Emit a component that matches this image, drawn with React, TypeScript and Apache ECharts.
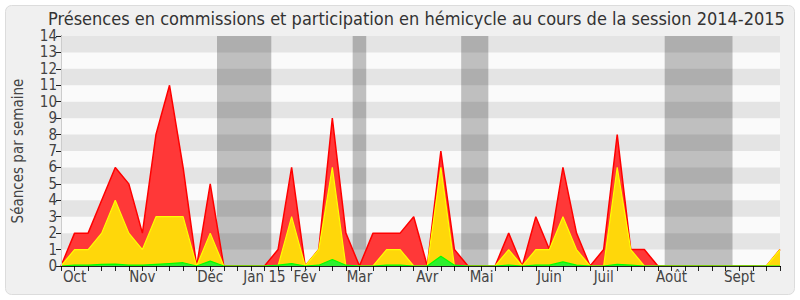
import React, { useEffect, useRef } from 'react';
import * as echarts from 'echarts';

const titleText = 'Présences en commissions et participation en hémicycle au cours de la session 2014-2015';
const yAxisName = 'Séances par semaine';

const weekCount = 54;
const monthLabels: [number, string][] = [
  [1, 'Oct'], [6, 'Nov'], [11, 'Déc'], [15, 'Jan 15'], [18, 'Fév'], [22, 'Mar'],
  [27, 'Avr'], [31, 'Mai'], [36, 'Juin'], [40, 'Juil'], [45, 'Août'], [50, 'Sept'],
];

const redValues = [0, 2, 2, 4, 6, 5, 2, 8, 11, 6, 0, 5, 0, 0, 0, 0, 1, 6, 0, 1, 9, 2, 0, 2, 2, 2, 3, 0, 7, 1, 0, 0, 0, 2, 0, 3, 1, 6, 2, 0, 1, 8, 1, 1, 0, 0, 0, 0, 0, 0, 0, 0, 0, 1];
const yellowValues = [0, 1, 1, 2, 4, 2, 1, 3, 3, 3, 0, 2, 0, 0, 0, 0, 0, 3, 0, 1, 6, 0, 0, 0, 1, 1, 0, 0, 6, 0, 0, 0, 0, 1, 0, 1, 1, 3, 1, 0, 0, 6, 1, 0, 0, 0, 0, 0, 0, 0, 0, 0, 0, 1];
const greenValues = [0, 0.05, 0.05, 0.1, 0.12, 0.05, 0.05, 0.1, 0.15, 0.2, 0, 0.3, 0, 0, 0, 0, 0.05, 0.15, 0, 0.05, 0.4, 0.05, 0, 0, 0.05, 0.05, 0, 0, 0.6, 0.05, 0, 0, 0, 0.05, 0, 0.05, 0.05, 0.25, 0.05, 0, 0, 0.1, 0.05, 0, 0, 0, 0, 0, 0, 0, 0, 0, 0, 0];

const vacationBands: [number, number][] = [[11.5, 15.5], [21.5, 22.5], [29.5, 31.5], [44.5, 49.5]];
const yMax = 14;

const FONT = '"DejaVu Sans Condensed", "DejaVu Sans", sans-serif';

export default function App() {
  const ref = useRef<HTMLDivElement>(null);
  useEffect(() => {
    document.body.style.margin = '0';
    if (!ref.current) return;
    const chart = echarts.init(ref.current, null, { renderer: 'svg' });
    const labelMap: Record<number, string> = {};
    monthLabels.forEach(([i, l]) => { labelMap[i] = l; });
    const toData = (arr: number[]) => arr.map((v, i) => [i, v]);

    const areaData: any[] = [];
    vacationBands.forEach(([a, b]) => {
      areaData.push([{ xAxis: a, itemStyle: { color: '#bfbfbf' } }, { xAxis: b }]);
    });
    for (let k = 1; k < yMax; k += 2) {
      areaData.push([{ yAxis: k, itemStyle: { color: 'rgba(0,0,0,0.085)' } }, { yAxis: k + 1 }]);
    }

    chart.setOption({
      animation: false,
      textStyle: { fontFamily: FONT },
      graphic: [
        {
          type: 'rect', z: -10, silent: true,
          shape: { x: 5.5, y: 5.5, width: 789, height: 289, r: 6 },
          style: { fill: '#f0f0f0', stroke: '#dcdcdc', lineWidth: 1 },
        },
      ],
      title: {
        text: titleText, left: 43, top: 4,
        textStyle: { fontFamily: FONT, fontSize: 18, fontWeight: 'normal', color: '#333' },
      },
      grid: {
        left: 61, right: 20, top: 36, bottom: 34, show: true,
        backgroundColor: '#fafafa', borderWidth: 0,
      },
      xAxis: [
        {
          type: 'value', min: 0, max: weekCount - 1, interval: 1, position: 'bottom', z: 10,
          axisLine: { show: true, lineStyle: { color: '#222', width: 1 } },
          axisTick: { show: true, length: 5, lineStyle: { color: '#222' } },
          axisLabel: {
            fontFamily: FONT, fontSize: 15, color: '#444', margin: 3,
            formatter: (v: number) => labelMap[v] || '',
          },
          splitLine: { show: false },
        },
        {
          type: 'value', min: 0, max: weekCount - 1, interval: 1, position: 'top', z: 10,
          axisLine: { show: false },
          axisTick: { show: true, inside: true, length: 1, lineStyle: { color: '#000' } },
          axisLabel: { show: false },
          splitLine: { show: false },
        },
      ],
      yAxis: [
        {
          type: 'value', min: 0, max: yMax, interval: 1, z: 10,
          name: yAxisName, nameLocation: 'middle', nameGap: 36, nameRotate: 90,
          nameTextStyle: { fontFamily: FONT, fontSize: 15, color: '#444' },
          axisLine: { show: true, lineStyle: { color: '#222' } },
          axisTick: { show: true, length: 5, lineStyle: { color: '#222' } },
          axisLabel: { fontFamily: FONT, fontSize: 15, color: '#444', margin: 4 },
          splitLine: { show: false },
        },
        {
          type: 'value', min: 0, max: yMax, interval: 1, position: 'right', z: 10,
          axisLine: { show: true, lineStyle: { color: '#cccccc' } },
          axisTick: { show: false }, axisLabel: { show: false }, splitLine: { show: false },
        },
      ],
      series: [
        {
          name: 'Présences', type: 'line', data: toData(redValues), symbol: 'none', z: 3,
          lineStyle: { color: '#ff0000', width: 1.5 },
          areaStyle: { color: '#ff3838', opacity: 1 },
          markArea: { silent: true, data: areaData },
        },
        {
          name: 'Commissions', type: 'line', data: toData(yellowValues), symbol: 'none', z: 4,
          lineStyle: { color: '#ffff00', width: 1.2 },
          areaStyle: { color: '#ffd70a', opacity: 1 },
        },
        {
          name: 'Hémicycle', type: 'line', data: toData(greenValues), symbol: 'none', z: 5,
          lineStyle: { color: '#00ff00', width: 1.2 },
          areaStyle: { color: '#2ef02e', opacity: 1 },
        },
      ],
    });
    return () => chart.dispose();
  }, []);
  return <div ref={ref} style={{ width: 800, height: 300 }} />;
}
